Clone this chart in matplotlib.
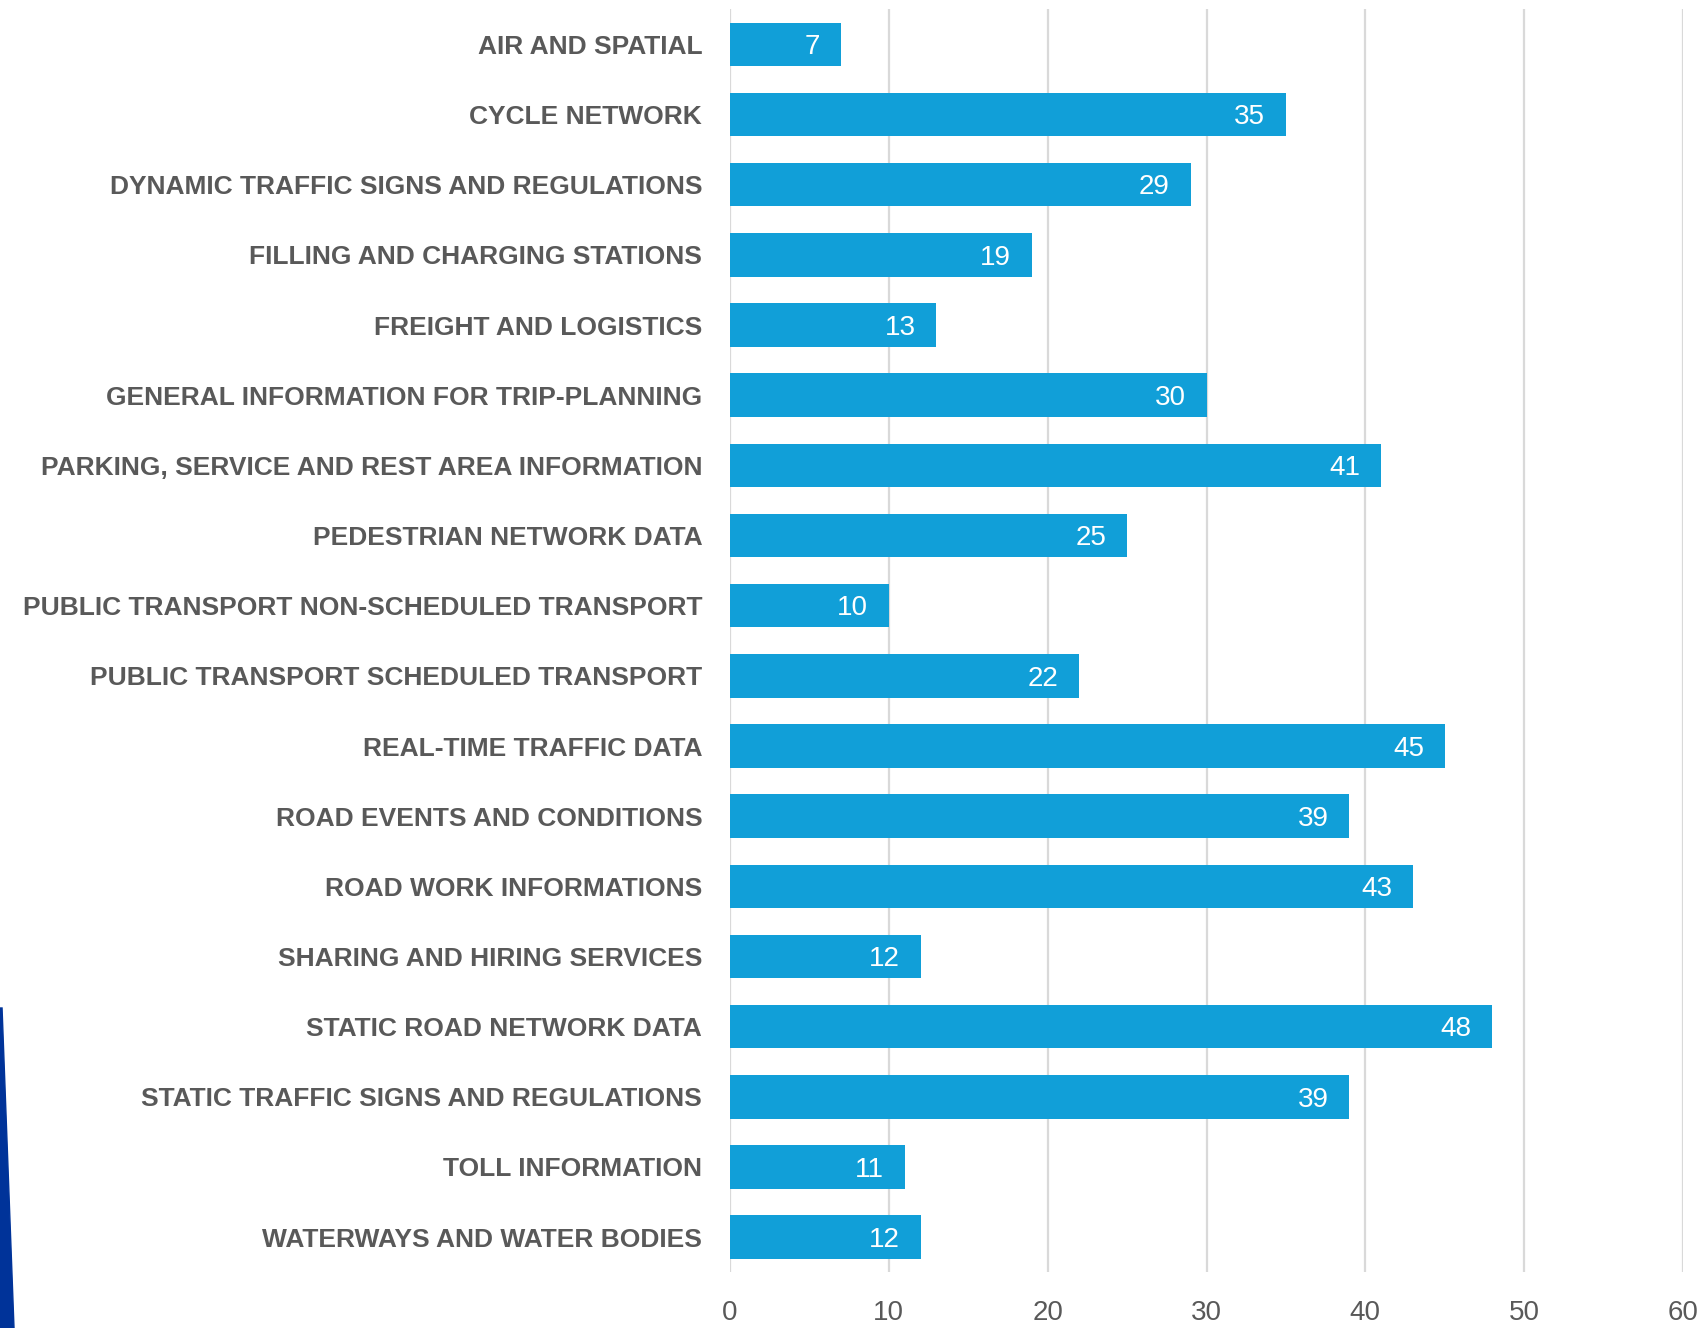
import numpy as np
import matplotlib.pyplot as plt
from matplotlib.patches import Polygon

# categories and counts, top to bottom as in the chart
categories = ["AIR AND SPATIAL", "CYCLE NETWORK", "DYNAMIC TRAFFIC SIGNS AND REGULATIONS",
              "FILLING AND CHARGING STATIONS", "FREIGHT AND LOGISTICS",
              "GENERAL INFORMATION FOR TRIP-PLANNING", "PARKING, SERVICE AND REST AREA INFORMATION",
              "PEDESTRIAN NETWORK DATA", "PUBLIC TRANSPORT NON-SCHEDULED TRANSPORT",
              "PUBLIC TRANSPORT SCHEDULED TRANSPORT", "REAL-TIME TRAFFIC DATA",
              "ROAD EVENTS AND CONDITIONS", "ROAD WORK INFORMATIONS", "SHARING AND HIRING SERVICES",
              "STATIC ROAD NETWORK DATA", "STATIC TRAFFIC SIGNS AND REGULATIONS",
              "TOLL INFORMATION", "WATERWAYS AND WATER BODIES"]
counts = [7, 35, 29, 19, 13, 30, 41, 25, 10, 22, 45, 39, 43, 12, 48, 39, 11, 12]
xticks = [0, 10, 20, 30, 40, 50, 60]

plt.rcParams['font.family'] = ["Liberation Sans", "DejaVu Sans"]

bar_col = "#119fd8"
txt_col = "#595959"

fig = plt.figure(figsize=(17.04, 13.28), dpi=100)
ax = fig.add_axes([0.4284, 0.042, 0.5593, 0.951])

y = np.arange(len(categories))
bars = ax.barh(y, counts, height=0.62, color=bar_col, zorder=3)
# value labels inside the bar end
for b, v in zip(bars, counts):
    ax.annotate(str(v), (b.get_width(), b.get_y() + b.get_height() / 2),
                xytext=(-15, -2), textcoords="offset points", ha="right", va="center",
                color="white", fontsize=20, zorder=4)

ax.set_ylim(len(categories) - 0.5, -0.5)
ax.set_xlim(0, 60)
ax.set_yticks(y)
ax.set_yticklabels(categories, fontsize=19, fontweight="bold", color=txt_col)
ax.set_xticks(xticks)
ax.set_xticklabels([str(t) for t in xticks], fontsize=20, color=txt_col)
ax.tick_params(axis="y", length=0, pad=20)
ax.tick_params(axis="x", length=0, pad=20)
ax.grid(axis="x", color="#d9d9d9", linewidth=1.6, zorder=0)
for s in ax.spines.values():
    s.set_visible(False)

# dark blue slide decoration at bottom-left edge
fig.patches.append(Polygon([[0, 1 - 1008 / 1328], [0.0012, 1 - 1008 / 1328], [14 / 1704, 0], [0, 0]],
                           closed=True, transform=fig.transFigure, color="#003399", zorder=5))

fig.savefig("out.png", dpi=100)
